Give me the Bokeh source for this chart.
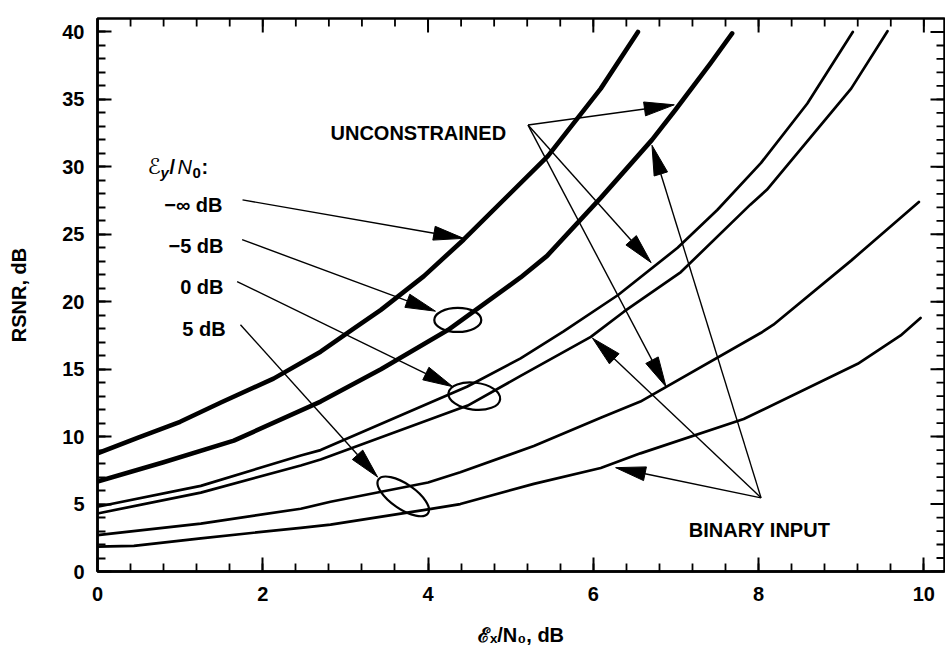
import numpy as np
from bokeh.plotting import figure
from bokeh.models import FixedTicker, Label, Range1d
from bokeh.embed import file_html
from bokeh.resources import INLINE

# ---------------- data ----------------
x_tick_labels = [0, 2, 4, 6, 8, 10]
y_tick_labels = [0, 5, 10, 15, 20, 25, 30, 35, 40]

# Ey/N0 = -inf dB (thick)
x_minf = [0, 0.5, 1.0, 1.5, 2.13, 2.7, 3.1, 3.43, 3.95, 4.43, 5.45, 6.09, 6.54]
y_minf = [8.76, 9.95, 11.1, 12.55, 14.3, 16.3, 18.0, 19.4, 21.9, 24.6, 30.8, 35.8, 40.0]

# Ey/N0 = -5 dB (thick)
x_m5 = [0, 0.8, 1.65, 2.7, 3.43, 4.24, 5.12, 5.44, 6.09, 6.71, 6.99, 7.42, 7.68]
y_m5 = [6.67, 8.1, 9.7, 12.6, 15.0, 17.9, 21.8, 23.4, 27.7, 32.0, 34.2, 37.7, 39.9]

# Ey/N0 = 0 dB, unconstrained
x_0u = [0, 1.25, 2.46, 2.7, 4.47, 5.12, 5.64, 6.3, 7.02, 7.5, 8.03, 8.59, 9.14]
y_0u = [4.8, 6.35, 8.6, 9.0, 13.7, 15.8, 17.8, 20.5, 24.0, 26.8, 30.3, 34.7, 40.0]

# Ey/N0 = 0 dB, binary input
x_0b = [0, 1.25, 2.46, 2.7, 4.48, 5.12, 5.97, 6.37, 7.06, 7.9, 8.1, 9.12, 9.56]
y_0b = [4.3, 5.85, 7.86, 8.3, 12.3, 14.5, 17.4, 19.26, 22.2, 27.2, 28.3, 35.8, 40.06]

# Ey/N0 = 5 dB, unconstrained
x_5u = [0, 1.25, 2.46, 2.82, 4.0, 4.39, 5.28, 6.09, 6.57, 8.03, 8.18, 9.12, 9.94]
y_5u = [2.7, 3.55, 4.65, 5.17, 6.6, 7.36, 9.3, 11.4, 12.6, 17.7, 18.3, 23.05, 27.4]

# Ey/N0 = 5 dB, binary input
x_5b = [0, 0.44, 1.25, 2.46, 2.82, 4.0, 4.39, 5.28, 6.09, 6.57, 7.82, 9.2, 9.72, 9.96]
y_5b = [1.85, 1.9, 2.46, 3.24, 3.47, 4.6, 5.0, 6.5, 7.67, 8.76, 11.3, 15.4, 17.5, 18.8]

# ---------------- layout ----------------
W, H = 945, 655
LEFT, RIGHT, TOP, BOTTOM = 97, 1, 18, 84
X_MAX, Y_MAX = 10.25, 41.0
SX = (W - LEFT - RIGHT) / X_MAX
SY = (H - TOP - BOTTOM) / Y_MAX
FONT = "Liberation Sans"

p = figure(width=W, height=H, x_range=Range1d(0, X_MAX), y_range=Range1d(0, Y_MAX),
           output_backend="svg", toolbar_location=None,
           min_border_left=LEFT, min_border_right=RIGHT,
           min_border_top=TOP, min_border_bottom=BOTTOM)
p.grid.visible = False
p.outline_line_color = "black"
p.outline_line_width = 2.5
p.background_fill_color = "white"
p.border_fill_color = "white"

x_minor = [round(v, 2) for v in np.arange(0.4, 10.25, 0.4)]
y_minor = list(range(1, 41))

MAJ_LEN, MIN_LEN = 14, 8


def style_axis(ax, major, minor):
    ax.ticker = FixedTicker(ticks=major, minor_ticks=minor)
    ax.axis_line_color = "black"
    ax.axis_line_width = 2.5
    ax.major_tick_in = MAJ_LEN
    ax.major_tick_out = 0
    ax.minor_tick_in = MIN_LEN
    ax.minor_tick_out = 0
    ax.major_tick_line_width = 2
    ax.minor_tick_line_width = 1.8
    ax.major_tick_line_color = "black"
    ax.minor_tick_line_color = "black"
    ax.major_label_text_font = FONT
    ax.major_label_text_font_style = "bold"
    ax.major_label_text_color = "black"
    ax.major_label_text_font_size = "20px"
    ax.axis_label_text_font = FONT
    ax.axis_label_text_font_style = "bold"
    ax.axis_label_text_font_size = "20px"
    ax.axis_label_text_color = "black"


xa = p.xaxis[0]
style_axis(xa, x_tick_labels, x_minor)
xa.major_label_standoff = 15
xa.axis_label = "\u2130\u2093/N\u2080, dB"
xa.axis_label_standoff = 20

ya = p.yaxis[0]
style_axis(ya, y_tick_labels, y_minor)
ya.major_label_standoff = 13
ya.axis_label = "RSNR, dB"
ya.axis_label_standoff = 29

# ticks on the top and right frame edges (inward), at the same tick values
p.segment(x0=x_tick_labels, y0=[Y_MAX] * len(x_tick_labels),
          x1=x_tick_labels, y1=[Y_MAX - MAJ_LEN / SY] * len(x_tick_labels),
          line_color="black", line_width=2)
p.segment(x0=x_minor, y0=[Y_MAX] * len(x_minor),
          x1=x_minor, y1=[Y_MAX - MIN_LEN / SY] * len(x_minor),
          line_color="black", line_width=1.8)
p.segment(x0=[X_MAX] * len(y_tick_labels), y0=y_tick_labels,
          x1=[X_MAX - MAJ_LEN / SX] * len(y_tick_labels), y1=y_tick_labels,
          line_color="black", line_width=2)
p.segment(x0=[X_MAX] * len(y_minor), y0=y_minor,
          x1=[X_MAX - MIN_LEN / SX] * len(y_minor), y1=y_minor,
          line_color="black", line_width=1.8)

# ---------------- curves ----------------
for xs, ys, lw in [(x_minf, y_minf, 4.6), (x_m5, y_m5, 4.6),
                   (x_0u, y_0u, 2.7), (x_0b, y_0b, 2.7),
                   (x_5u, y_5u, 2.7), (x_5b, y_5b, 2.7)]:
    p.line(xs, ys, line_color="black", line_width=lw, line_join="round", line_cap="round")

# ---------------- ellipses ----------------
p.ellipse(x=[4.36, 4.56, 3.70], y=[18.65, 13.0, 5.57],
          width=[47, 52, 60], height=[24, 27, 25], angle=[0.0, -0.12, -0.6],
          width_units="screen", height_units="screen",
          fill_color=None, line_color="black", line_width=2.2)

# ---------------- arrows ----------------
UNC = (5.21, 33.1)
BIN = (8.03, 5.46)
arrows = [
    ((1.755, 27.55), (4.43, 24.7)),
    ((1.75, 24.6), (4.09, 19.3)),
    ((1.69, 21.5), (4.30, 13.7)),
    ((1.73, 18.3), (3.39, 7.0)),
    (UNC, (6.98, 34.6)),
    (UNC, (6.70, 22.9)),
    (UNC, (6.88, 13.7)),
    (BIN, (6.71, 31.6)),
    (BIN, (5.99, 17.3)),
    (BIN, (6.27, 7.7)),
]

sx0, sy0, sx1, sy1 = [], [], [], []
hx, hy = [], []
L, HW = 30.0, 7.0
for tail, tip in arrows:
    dx = (tip[0] - tail[0]) * SX
    dy = (tip[1] - tail[1]) * SY
    d = (dx * dx + dy * dy) ** 0.5
    ux, uy = dx / d, dy / d
    bx = tip[0] * SX - ux * L
    by = tip[1] * SY - uy * L
    nx, ny = -uy, ux
    sx0.append(tail[0]); sy0.append(tail[1])
    sx1.append(bx / SX); sy1.append(by / SY)
    hx.append([tip[0], (bx + nx * HW) / SX, (bx - nx * HW) / SX])
    hy.append([tip[1], (by + ny * HW) / SY, (by - ny * HW) / SY])

p.segment(x0=sx0, y0=sy0, x1=sx1, y1=sy1, line_color="black", line_width=1.4)
p.patches(hx, hy, fill_color="black", line_color="black", line_width=1)


# ---------------- text ----------------
def lab(x, y, text, size="20px", align="left", style="bold", xo=0, yo=0,
        baseline="alphabetic", font=FONT):
    p.add_layout(Label(x=x, y=y, text=text, x_offset=xo, y_offset=yo,
                       text_font=font, text_font_size=size, text_font_style=style,
                       text_align=align, text_baseline=baseline, text_color="black"))


lab(2.82, 32.5, "UNCONSTRAINED")
lab(7.155, 3.1, "BINARY INPUT")
lab(1.513, 27.2, "\u2212\u221e dB", align="right")
lab(1.525, 24.1, "\u22125 dB", align="right")
lab(1.525, 21.1, "0 dB", align="right")
lab(1.55, 18.0, "5 dB", align="right")

# legend title  E_y/N_0:
LX, LY = 0.605, 30.0
lab(LX, LY, "\u2130", size="22px", style="normal", font="DejaVu Sans")
lab(LX, LY, "y", size="15px", style="bold italic", xo=13, yo=-6)
lab(LX, LY, "/", style="bold", xo=22)
lab(LX, LY, "N", style="italic", xo=30)
lab(LX, LY, "0", size="15px", style="bold", xo=45, yo=-6)
lab(LX, LY, ":", style="bold", xo=54)

open("out.html", "w").write(file_html(p, INLINE))
